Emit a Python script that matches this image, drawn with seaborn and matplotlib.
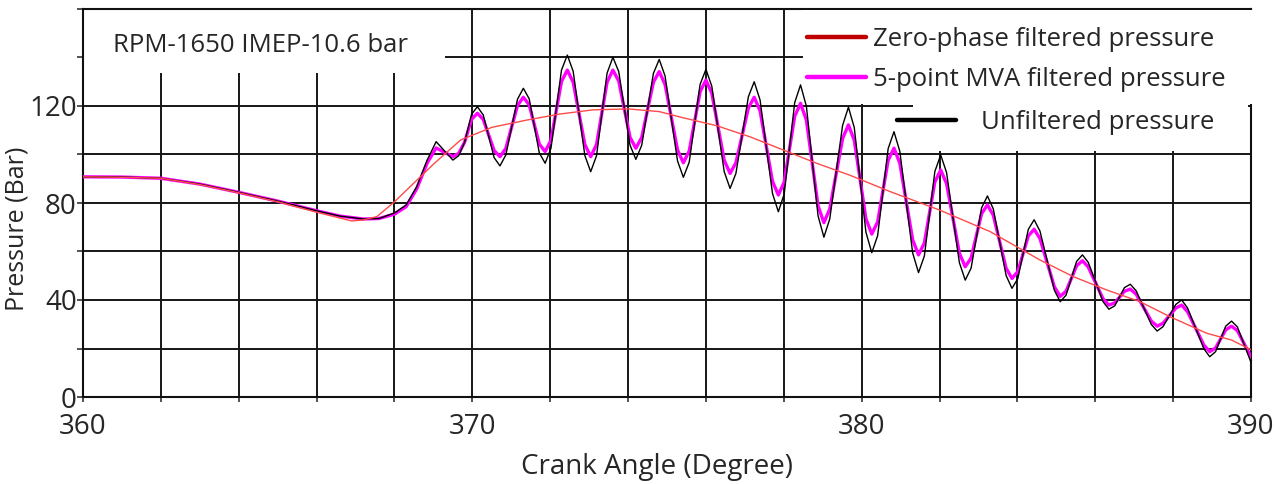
import matplotlib
matplotlib.use("Agg")
import matplotlib.pyplot as plt
from matplotlib.lines import Line2D
from matplotlib.patches import Rectangle
import seaborn as sns

# Crank angle (deg) shared by the unfiltered and 5-point MVA traces
angle = [
    360.0, 361.0, 362.0, 363.0, 364.0, 365.0, 366.0, 366.6, 367.2, 367.6,
    368.0, 368.3, 368.57, 368.84, 369.07, 369.5, 369.65, 369.8,
    369.98, 370.13, 370.28, 370.56, 370.71, 370.86, 371.16, 371.31, 371.46,
    371.72, 371.87, 372.02, 372.29, 372.44, 372.59, 372.89, 373.04, 373.19,
    373.46, 373.61, 373.76, 374.05, 374.20, 374.35, 374.65, 374.80, 374.95,
    375.27, 375.42, 375.57, 375.85, 376.00, 376.15, 376.47, 376.62, 376.77,
    377.09, 377.24, 377.39, 377.71, 377.86, 378.01, 378.28, 378.43, 378.58,
    378.88, 379.03, 379.18, 379.51, 379.66, 379.81, 380.11, 380.26, 380.41,
    380.68, 380.83, 380.98, 381.31, 381.46, 381.61, 381.88, 382.03, 382.18,
    382.51, 382.66, 382.81, 383.08, 383.23, 383.38, 383.71, 383.86, 384.01,
    384.28, 384.43, 384.58, 384.95, 385.10, 385.25, 385.52, 385.67, 385.82,
    386.20, 386.35, 386.50, 386.75, 386.90, 387.05, 387.44, 387.59, 387.74,
    388.07, 388.22, 388.37, 388.79, 388.94, 389.09, 389.35, 389.50, 389.65,
    390.0,
]

# Unfiltered in-cylinder pressure (bar)
p_raw = [
    90.8, 90.7, 90.2, 87.8, 84.4, 80.8, 76.8, 74.6, 73.4, 73.6,
    75.9, 79.2, 86.7, 97.7, 105.3, 97.7, 99.5, 105.0,
    116.6, 119.7, 116.3, 98.7, 95.3, 99.8, 122.8, 127.3, 123.0,
    100.7, 96.4, 102.6, 134.8, 141.0, 134.3, 99.6, 92.9, 99.5,
    133.5, 140.1, 134.2, 103.9, 98.0, 103.8, 133.4, 139.2, 132.4,
    97.4, 90.6, 96.8, 128.9, 135.1, 128.2, 92.9, 86.0, 92.2,
    123.8, 130.0, 122.5, 83.9, 76.4, 83.7, 121.4, 128.7, 119.9,
    74.7, 65.9, 73.4, 112.0, 119.5, 111.1, 67.9, 59.5, 66.5,
    102.4, 109.4, 101.3, 59.4, 51.3, 58.1, 93.0, 99.8, 92.6,
    55.4, 48.2, 53.1, 78.0, 82.9, 77.6, 50.1, 44.8, 48.8,
    69.1, 73.1, 68.4, 44.0, 39.3, 42.0, 55.9, 58.6, 55.5,
    39.3, 36.2, 37.6, 45.1, 46.5, 43.8, 29.9, 27.2, 29.0,
    38.2, 40.0, 36.7, 19.9, 16.6, 18.7, 29.2, 31.3, 28.9,
    14.3,
]

# 5-point moving-average filtered pressure (bar)
p_mva = [
    90.8, 90.7, 90.2, 87.8, 84.4, 80.8, 76.8, 74.6, 73.4, 73.6,
    75.4, 78.5, 85.8, 96.5, 102.7, 99.1, 100.5, 105.0,
    114.5, 117.0, 114.5, 101.6, 99.1, 102.5, 120.2, 123.6, 120.5,
    104.3, 101.2, 105.9, 130.1, 134.8, 129.8, 104.1, 99.1, 104.1,
    129.8, 134.8, 130.3, 107.1, 102.6, 107.0, 129.8, 134.2, 128.9,
    101.9, 96.6, 101.4, 125.9, 130.7, 125.3, 97.6, 92.2, 96.6,
    119.2, 123.6, 118.0, 88.9, 83.3, 88.6, 115.8, 121.1, 114.2,
    78.8, 71.9, 77.5, 106.6, 112.2, 105.9, 73.5, 67.2, 72.2,
    97.6, 102.6, 96.4, 64.8, 58.6, 63.5, 88.7, 93.6, 88.0,
    59.3, 53.7, 57.3, 75.6, 79.2, 75.0, 53.1, 48.9, 51.7,
    66.4, 69.2, 65.3, 45.4, 41.5, 43.6, 54.1, 56.2, 53.6,
    40.5, 37.9, 38.8, 43.6, 44.5, 42.4, 31.3, 29.2, 30.4,
    36.7, 37.9, 35.2, 21.4, 18.7, 20.2, 27.7, 29.2, 27.4,
    16.5,
]

# Zero-phase filtered pressure (bar)
angle_zp = [
    360.0, 361.0, 362.0, 363.0, 364.0, 365.0, 366.0, 366.9, 367.2, 367.55,
    368.0, 369.0, 369.7, 370.5, 371.4, 372.25, 373.1, 374.0, 374.8, 375.4,
    376.27, 377.13, 377.98, 378.84, 379.69, 380.73, 382.0, 383.3, 384.58,
    385.44, 386.3, 387.15, 387.92, 388.86, 389.5, 390.0,
]
p_zp = [
    90.8, 90.6, 90.2, 87.6, 84.2, 80.5, 76.2, 72.6, 73.0, 74.4,
    80.5, 96.0, 106.0, 111.2, 114.2, 116.7, 118.4, 118.8, 117.7, 115.2,
    111.9, 107.3, 101.9, 96.4, 91.5, 84.7, 77.1, 68.2, 56.5,
    49.6, 44.1, 39.3, 33.1, 26.3, 23.5, 19.5,
]

x_ticks = list(range(360, 391, 2))
x_labels = ["360", "370", "380", "390"]
y_ticks = list(range(0, 161, 20))
y_labels = ["0", "40", "80", "120"]

series_names = ["Zero-phase filtered pressure", "5-point MVA filtered pressure",
                "Unfiltered pressure"]
chart_note = "RPM-1650 IMEP-10.6 bar"

sns.set_style("white")
plt.rcParams["font.family"] = ["Open Sans", "DejaVu Sans"]

fig = plt.figure(figsize=(12.83, 4.84), dpi=100)
ax = fig.add_axes([83 / 1283, 1 - 397 / 484, 1168 / 1283, 388 / 484])

ax.set_xlim(360, 390)
ax.set_ylim(0, 160)

# Grid: every 2 degrees and every 20 bar
ax.set_xticks(x_ticks)
ax.set_xticklabels([str(t) if str(t) in x_labels else "" for t in x_ticks])
ax.set_yticks(y_ticks)
ax.set_yticklabels([str(t) if str(t) in y_labels else "" for t in y_ticks])
ax.set_axisbelow(True)
ax.grid(True, color="#161616", linewidth=1.4)

for s in ax.spines.values():
    s.set_color("#111111")
    s.set_linewidth(1.5)

ax.tick_params(axis="x", direction="out", length=3.5, width=1.2, color="#333333",
               pad=8, labelsize=20, bottom=True)
ax.tick_params(axis="y", direction="out", length=4, width=1.2, color="#333333",
               pad=0.5, labelsize=20, left=True)

# White panels behind the annotation and the key
ax.add_patch(Rectangle((360, 133.6), 9.3, 26.4, facecolor="white",
                       edgecolor="none", zorder=1.2))
ax.add_patch(Rectangle((378.5, 120.8), 11.8, 38.6, facecolor="white",
                       edgecolor="none", zorder=2.6, clip_on=False))
ax.add_patch(Rectangle((381.32, 101.6), 8.6, 19.4, facecolor="white",
                       edgecolor="none", zorder=1.2))

sns.lineplot(x=angle, y=p_mva, ax=ax, color="#ff00ff", linewidth=2.4,
             estimator=None, sort=False, zorder=3)
sns.lineplot(x=angle, y=p_raw, ax=ax, color="#000000", linewidth=1.0,
             estimator=None, sort=False, zorder=4)
sns.lineplot(x=angle_zp, y=p_zp, ax=ax, color="#ff4a4a", linewidth=1.0,
             estimator=None, sort=False, zorder=5)

ax.text(364.55, 144.8, chart_note, fontsize=18.5, ha="center", va="center",
        zorder=6)

h_zp = Line2D([], [], color="#c00000", linewidth=3.2)
h_mva = Line2D([], [], color="#ff00ff", linewidth=3.2)
h_raw = Line2D([], [], color="#000000", linewidth=3.2)

leg1 = ax.legend([h_zp, h_mva], series_names[:2], loc="upper left",
                 bbox_to_anchor=((807 - 83) / 1168, (397 - 27) / 388),
                 frameon=False, fontsize=18.5, handlelength=2.3,
                 handletextpad=0.25, labelspacing=0.6, borderpad=0,
                 borderaxespad=0)
leg1.set_zorder(7)
ax.add_artist(leg1)
leg2 = ax.legend([h_raw], series_names[2:], loc="upper left",
                 bbox_to_anchor=((897 - 83) / 1168, (397 - 110) / 388),
                 frameon=False, fontsize=18.5, handlelength=2.3,
                 handletextpad=0.95, borderpad=0, borderaxespad=0)
leg2.set_zorder(7)

ax.set_xlabel("Crank Angle (Degree)", fontsize=20)
ax.set_ylabel("Pressure (Bar)", fontsize=18)
ax.xaxis.set_label_coords((657 - 83) / 1168, (397 - 453) / 388)
ax.yaxis.set_label_coords((30 - 83) / 1168, (397 - 229) / 388)

fig.savefig("out.png", dpi=100)
